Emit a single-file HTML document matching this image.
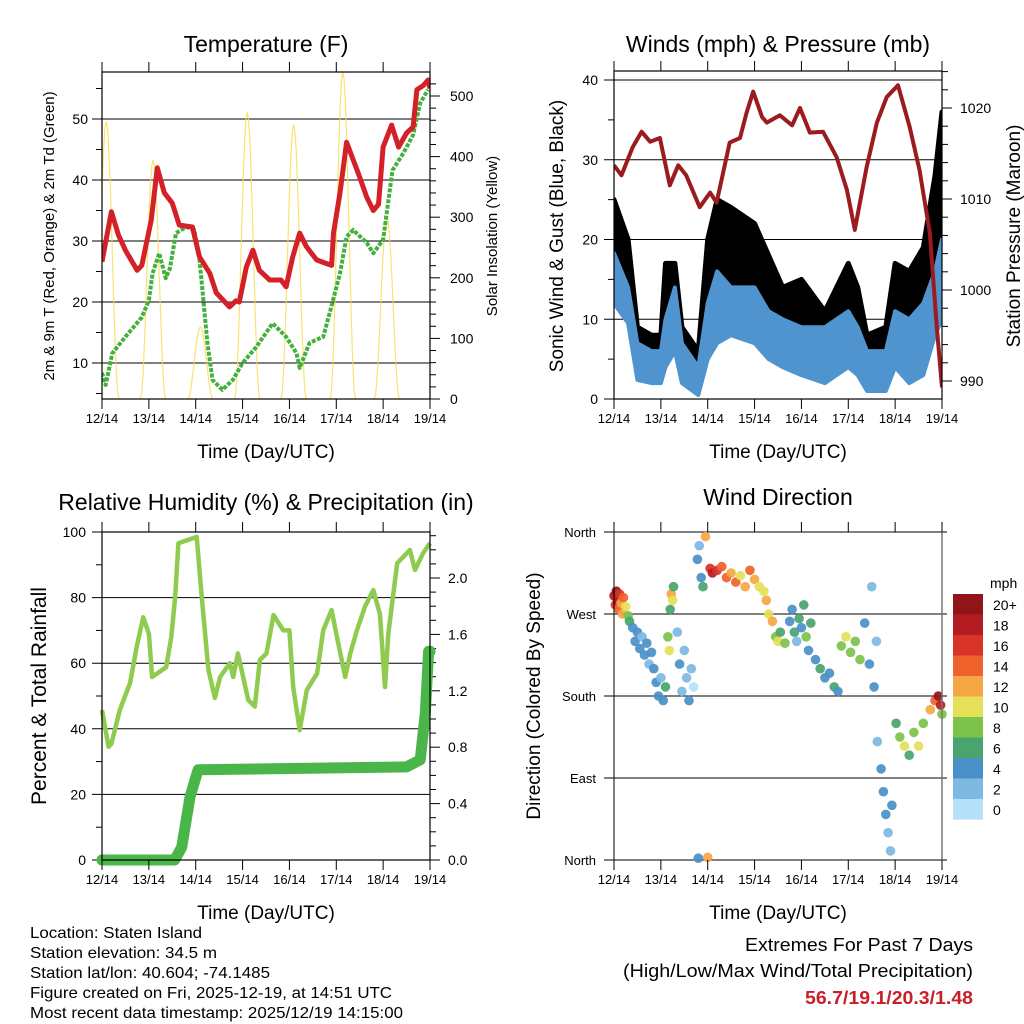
<!DOCTYPE html>
<html><head><meta charset="utf-8">
<style>
html,body{margin:0;padding:0;background:#fff;}
svg{display:block;font-family:"Liberation Sans",Arial,sans-serif;}
</style></head>
<body>
<svg id="root" width="1024" height="1024" viewBox="0 0 1024 1024" xmlns="http://www.w3.org/2000/svg"></svg>
<script>
// ===== Temperature panel data (time in days since 12/14 00Z) =====
const tDays=[0,0.2,0.35,0.5,0.75,0.85,1.05,1.18,1.33,1.5,1.65,1.93,2.08,2.3,2.44,2.72,2.86,2.93,3.08,3.22,3.36,3.58,3.82,3.93,4.07,4.22,4.36,4.58,4.72,4.9,4.94,5.08,5.22,5.36,5.47,5.65,5.79,5.9,6.0,6.18,6.33,6.5,6.64,6.72,6.86,6.96,7.0];
const tempF=[26.6,34.8,31,28.5,25.2,26,33.4,42,37.9,36.2,32.6,32.3,27.4,24.7,21.5,19.2,20.2,20,25.7,28.5,25.2,23.6,23.6,22.5,27.4,31.3,29.1,26.9,26.5,26,31.3,37.9,46.2,43.3,41.1,37.2,35,36,45.4,49,45.4,47.7,48.7,54.8,55.5,56.4,55];
const tdDays=[0,0.08,0.22,0.5,0.85,1.0,1.08,1.22,1.36,1.45,1.58,1.8,1.97,2.08,2.15,2.25,2.36,2.57,2.79,3.0,3.29,3.64,3.93,4.15,4.22,4.43,4.72,4.86,5.08,5.22,5.36,5.65,5.79,6.0,6.2,6.43,6.64,6.79,6.96];
const dewF=[8.4,6.4,11.6,14.3,17.5,20.3,24.7,28,23.9,25.5,31.3,32.3,31.8,26.9,21.5,13.3,7.2,5.6,7.2,10,12.6,16.5,14.3,11.6,9.2,13.3,14.3,18.2,24.7,30.7,31.8,29.7,28,30.2,41.6,44.4,47.4,52.6,54.8];
const solarPeakDay=[0.09,1.09,2.1,3.1,4.09,5.14,6.08];
const solarPeak=[458,395,119,473,453,540,300];
// ===== Wind panel data =====
const wDays=[0,0.3,0.5,0.8,1.0,1.1,1.3,1.45,1.8,2.0,2.2,2.5,3.0,3.3,3.6,4.0,4.5,5.0,5.2,5.4,5.8,6.0,6.3,6.6,6.85,7.0];
const windLow=[12,9.5,2.4,2,2,4,6,2,0.5,5,7,8,7,5,4,3,2,4,3,1,1,4,2,3,8,10];
const windHigh=[18.3,14,7,6,6,10,14,7,4,12,16,14,14,11,10,9,9,11,9,6,6,11,10,12,16,20];
const gustHigh=[25,20,9,8,8,17,17,9,6,20,25,24,22,18,14,15,11,17,14,8,9,17,16,19,28,36];
const pDays=[0,0.16,0.4,0.59,0.77,0.98,1.19,1.37,1.54,1.83,2.05,2.19,2.47,2.69,2.83,2.97,3.16,3.26,3.54,3.8,3.97,4.18,4.46,4.75,4.97,5.14,5.39,5.61,5.82,6.06,6.31,6.52,6.74,6.89,7.0];
const pressMb=[1013.7,1012.6,1015.7,1017.4,1016.3,1016.7,1011.5,1013.7,1012.6,1009.1,1010.7,1009.6,1016.2,1016.7,1019.5,1021.8,1019,1018.4,1019.2,1018.1,1020,1017.3,1017.4,1014.6,1011,1006.6,1013.5,1018.4,1021.2,1022.5,1017.9,1013.2,1006.3,995.9,989.3];
// ===== RH / precip data =====
const rhDays=[0,0.14,0.2,0.38,0.6,0.74,0.88,1.0,1.07,1.37,1.48,1.56,1.63,2.02,2.13,2.27,2.41,2.52,2.73,2.8,2.9,3.12,3.26,3.37,3.51,3.66,3.87,4.0,4.08,4.22,4.37,4.59,4.72,4.9,5.0,5.19,5.3,5.44,5.61,5.79,5.93,6.04,6.11,6.3,6.57,6.68,6.85,7.0];
const rhPct=[45.7,34.5,35.5,45.7,54,65,74,69,55.8,58.8,68,80,96.6,98.5,80,58,49.4,55.8,60,55.8,63,48.8,46.8,61,63,74.7,70,70,52.7,39.6,51.8,56.9,70,76.2,69,55.8,63,70,77.2,82.3,75,52.7,69,90.5,94.5,88.4,93.5,96.6];
const prDays=[0,1.55,1.7,1.88,2.05,6.5,6.79,6.9,6.97,7.0];
const precipIn=[0,0,0.09,0.45,0.64,0.66,0.71,1.04,1.48,1.48];
// ===== Wind direction data =====
const wdDay=[0,0.03,0.05,0.08,0.1,0.12,0.15,0.18,0.2,0.25,0.3,0.33,0.4,0.45,0.5,0.55,0.6,0.65,0.7,0.75,0.8,0.85,0.9,0.95,1.0,1.05,1.1,1.15,1.18,1.2,1.22,1.25,1.27,1.35,1.4,1.45,1.5,1.55,1.6,1.65,1.7,1.78,1.82,1.86,1.9,1.95,1.8,2.0,2.05,2.1,2.2,2.3,2.4,2.5,2.6,2.7,2.8,2.9,3.0,3.1,3.2,3.25,3.3,3.38,3.45,3.5,3.55,3.65,3.75,3.8,3.85,3.9,3.95,4.0,4.05,4.1,4.15,4.2,4.3,4.4,4.5,4.6,4.7,4.78,4.85,4.95,5.05,5.15,5.25,5.35,5.45,5.5,5.55,5.6,5.62,5.7,5.75,5.8,5.85,5.9,5.93,6.02,6.1,6.2,6.3,6.4,6.5,6.6,6.75,6.85,6.92,6.97,7.0];
const wdDir=[290,280,295,285,275,292,282,270,288,278,268,262,255,240,250,232,245,225,238,215,228,210,195,180,200,175,190,245,230,275,292,285,300,250,215,185,230,200,175,210,190,330,345,310,300,355,2,3,320,315,318,322,310,315,305,312,300,318,308,300,295,285,270,262,245,240,250,238,262,275,250,240,265,255,280,245,230,260,220,210,200,205,190,185,235,245,228,240,220,260,215,300,190,240,130,100,75,50,30,10,60,150,135,125,115,140,125,150,165,175,180,170,160];
const wdSpd=[18,16,20,18,14,16,12,12,14,10,8,6,4,4,4,4,2,4,4,2,4,4,4,4,2,4,6,8,10,6,12,10,6,2,4,2,2,2,4,2,0,4,2,4,6,12,4,12,16,18,16,14,14,12,14,10,12,14,12,10,10,12,10,12,8,10,6,8,4,4,6,2,6,4,6,8,4,6,4,6,4,4,6,4,8,10,8,8,8,4,4,2,4,2,2,4,4,4,2,2,4,6,8,10,6,8,10,8,12,14,20,18,8];
const cbLabels=["20+","18","16","14","12","10","8","6","4","2","0"];
const cbColors=["#8f1518","#b51c22","#d93227","#ef622b","#f6a643","#e5e057","#7cc24b","#48a56d","#4a90c8","#7db9e3","#b5e2f8"];
const dayLabels=["12/14","13/14","14/14","15/14","16/14","17/14","18/14","19/14"];

const NS="http://www.w3.org/2000/svg";
const root=document.getElementById('root');
function mk(tag,attrs,parent,text){const e=document.createElementNS(NS,tag);for(const k in attrs)e.setAttribute(k,attrs[k]);if(text!==undefined)e.textContent=text;(parent||root).appendChild(e);return e;}
function lin(d0,d1,r0,r1){return v=>r0+(v-d0)*(r1-r0)/(d1-d0);}
function pts(xs,ys,fx,fy){return xs.map((x,i)=>fx(x).toFixed(1)+','+fy(ys[i]).toFixed(1)).join(' ');}

function panelFrame(name){
  const g=mk('g',{});
  
  
  return g;
}
function drawXAxis(g,fx,T,B,cy){
  dayLabels.forEach((lab,i)=>{
    const x=fx(i);
    mk('line',{x1:x,y1:T,x2:x,y2:T-10,stroke:'#000','stroke-width':1},g);
    mk('line',{x1:x,y1:B,x2:x,y2:B+10,stroke:'#000','stroke-width':1},g);
    const t=mk('text',{x:x,y:B+24,'font-size':13,'text-anchor':'middle'},g,lab);
    
    
  });
  const t=mk('text',{x:cy,y:B+59,'font-size':19,'text-anchor':'middle'},g,'Time (Day/UTC)');
  
  
}
function box(g,L,T,R,B){mk('rect',{x:L,y:T,width:R-L,height:B-T,fill:'none',stroke:'#000','stroke-width':1.2},g);}
function grid(g,L,R,y){mk('line',{x1:L-10,y1:y,x2:R,y2:y,stroke:'#000','stroke-width':1},g);}

// ---------- Panel 1: Temperature ----------
(function(){
  const L=102,T=72,R=430,B=399;
  const g=panelFrame('temperature-panel');
  const fx=lin(0,7,L,R), fy=lin(10,50,363,119), fs=lin(0,500,399,96);
  const t=mk('text',{x:266,y:52,'font-size':23,'text-anchor':'middle'},g,'Temperature (F)');
  
  
  [10,20,30,40,50].forEach(v=>{grid(g,L,R,fy(v));
    const lb=mk('text',{x:88,y:fy(v)+5,'font-size':14,'text-anchor':'end'},g,String(v));
    
    });
  [5,15,25,35,45,55].forEach(v=>mk('line',{x1:L-6,y1:fy(v),x2:L,y2:fy(v),stroke:'#000'},g));
  for(let v=0;v<=540;v+=20){const y=fs(v);if(y<T)continue;mk('line',{x1:R,y1:y,x2:R+(v%100===0?10:6),y2:y,stroke:'#000'},g);}
  [0,100,200,300,400,500].forEach(v=>{const lb=mk('text',{x:450,y:fs(v)+5,'font-size':14},g,String(v));
    
    });
  const clip=mk('clipPath',{id:'c1'},g); mk('rect',{x:L,y:T,width:R-L,height:B-T},clip);
  const pg=mk('g',{'clip-path':'url(#c1)'},g);
  solarPeakDay.forEach((d,i)=>{
    const xs=[],ys=[];for(let k=0;k<=20;k++){const u=-0.27+k*0.027;xs.push(d+u);const s=Math.cos(u/0.27*Math.PI/2);ys.push(solarPeak[i]*s*s);}
    const p=mk('polyline',{points:pts(xs,ys,fx,fs),fill:'none',stroke:'#f7dc4c','stroke-width':1.2,opacity:0.8},pg);
    
    
  });
  const td=mk('polyline',{points:pts(tdDays,dewF,fx,fy),fill:'none',stroke:'#44b03f','stroke-width':4,'stroke-dasharray':'4 1.5','stroke-linejoin':'round'},pg);
  
  
  const tl=mk('polyline',{points:pts(tDays,tempF,fx,fy),fill:'none',stroke:'#d42027','stroke-width':5,'stroke-linejoin':'round'},pg);
  
  
  box(g,L,T,R,B); drawXAxis(g,fx,T,B,266);
  const yl=mk('text',{transform:'translate(54,236) rotate(-90)','font-size':15,'text-anchor':'middle'},g,'2m & 9m T (Red, Orange) & 2m Td (Green)');
  
  
  const yr=mk('text',{transform:'translate(497,236) rotate(-90)','font-size':15,'text-anchor':'middle'},g,'Solar Insolation (Yellow)');
  
  
})();

// ---------- Panel 2: Winds & Pressure ----------
(function(){
  const L=614,T=71,R=942,B=399;
  const g=panelFrame('winds-panel');
  const fx=lin(0,7,L,R), fy=lin(0,40,399,80), fp=lin(990,1020,381,108);
  const t=mk('text',{x:778,y:52,'font-size':23,'text-anchor':'middle'},g,'Winds (mph) & Pressure (mb)');
  
  
  [0,10,20,30,40].forEach(v=>{if(v>0)grid(g,L,R,fy(v));else mk('line',{x1:L-10,y1:fy(v),x2:L,y2:fy(v),stroke:'#000'},g);
    const lb=mk('text',{x:598,y:fy(v)+5,'font-size':14,'text-anchor':'end'},g,String(v));
    
    });
  [5,15,25,35].forEach(v=>mk('line',{x1:L-6,y1:fy(v),x2:L,y2:fy(v),stroke:'#000'},g));
  for(let v=988;v<=1024;v+=2){const y=fp(v);if(y<T||y>B)continue;mk('line',{x1:R,y1:y,x2:R+(v%10===0?10:6),y2:y,stroke:'#000'},g);}
  [990,1000,1010,1020].forEach(v=>{const lb=mk('text',{x:960,y:fp(v)+5,'font-size':14},g,String(v));
    
    });
  const clip=mk('clipPath',{id:'c2'},g); mk('rect',{x:L,y:T,width:R-L,height:B-T},clip);
  const pg=mk('g',{'clip-path':'url(#c2)'},g);
  const gust=mk('polygon',{points:pts(wDays,gustHigh,fx,fy)+' '+pts(wDays.slice().reverse(),windHigh.slice().reverse(),fx,fy),fill:'#000',stroke:'#000','stroke-width':5,'stroke-linejoin':'round'},pg);
  
  
  const wind=mk('polygon',{points:pts(wDays,windHigh,fx,fy)+' '+pts(wDays.slice().reverse(),windLow.slice().reverse(),fx,fy),fill:'#4f94cf',stroke:'#4f94cf','stroke-width':4,'stroke-linejoin':'round'},pg);
  
  
  const pr=mk('polyline',{points:pts(pDays,pressMb,fx,fp),fill:'none',stroke:'#9b1b1e','stroke-width':4,'stroke-linejoin':'round'},pg);
  
  
  box(g,L,T,R,B); drawXAxis(g,fx,T,B,778);
  const yl=mk('text',{transform:'translate(563,236) rotate(-90)','font-size':19,'text-anchor':'middle'},g,'Sonic Wind & Gust (Blue, Black)');
  
  
  const yr=mk('text',{transform:'translate(1020,236) rotate(-90)','font-size':19,'text-anchor':'middle'},g,'Station Pressure (Maroon)');
  
  
})();

// ---------- Panel 3: RH & Precip ----------
(function(){
  const L=102,T=532,R=430,B=860;
  const g=panelFrame('humidity-panel');
  const fx=lin(0,7,L,R), fy=lin(0,100,860,532), fp=lin(0,2.0,860,578);
  const t=mk('text',{x:266,y:510,'font-size':23,'text-anchor':'middle'},g,'Relative Humidity (%) & Precipitation (in)');
  
  
  [0,20,40,60,80,100].forEach(v=>{if(v>0&&v<100)grid(g,L,R,fy(v));else mk('line',{x1:L-10,y1:fy(v),x2:L,y2:fy(v),stroke:'#000'},g);
    const lb=mk('text',{x:86,y:fy(v)+5,'font-size':14,'text-anchor':'end'},g,String(v));
    
    });
  [10,30,50,70,90].forEach(v=>mk('line',{x1:L-6,y1:fy(v),x2:L,y2:fy(v),stroke:'#000'},g));
  for(let k=0;k<=23;k++){const v=k/10;const y=fp(v);if(y<T)continue;mk('line',{x1:R,y1:y,x2:R+(k%4===0?10:6),y2:y,stroke:'#000'},g);}
  ['0.0','0.4','0.8','1.2','1.6','2.0'].forEach(s=>{const lb=mk('text',{x:448,y:fp(+s)+5,'font-size':14},g,s);
    
    });
  const clip=mk('clipPath',{id:'c3'},g); mk('rect',{x:L-6,y:T,width:R-L+12,height:B-T+6},clip);
  const pg=mk('g',{'clip-path':'url(#c3)'},g);
  const rh=mk('polyline',{points:pts(rhDays,rhPct,fx,fy),fill:'none',stroke:'#8fcb4f','stroke-width':4.5,'stroke-linejoin':'round'},pg);
  
  
  const pc=mk('polyline',{points:pts(prDays,precipIn,fx,fp),fill:'none',stroke:'#4ab548','stroke-width':11,'stroke-linejoin':'round','stroke-linecap':'round'},pg);
  
  
  box(g,L,T,R,B); drawXAxis(g,fx,T,B,266);
  const yl=mk('text',{transform:'translate(46,696) rotate(-90)','font-size':21,'text-anchor':'middle'},g,'Percent & Total Rainfall');
  
  
})();

// ---------- Panel 4: Wind Direction ----------
(function(){
  const L=614,T=532,R=942,B=860;
  const g=panelFrame('wind-direction-panel');
  const fx=lin(0,7,L,R), fy=lin(0,360,860,532);
  const t=mk('text',{x:778,y:505,'font-size':23,'text-anchor':'middle'},g,'Wind Direction');
  
  
  [[0,'North'],[90,'East'],[180,'South'],[270,'West'],[360,'North']].forEach(([v,s])=>{
    mk('line',{x1:L-10,y1:fy(v),x2:R+5,y2:fy(v),stroke:'#000'},g);
    const lb=mk('text',{x:596,y:fy(v)+5,'font-size':13,'text-anchor':'end'},g,s);
    
    });
  const pg=mk('g',{},g);
  function col(s){let b=Math.floor(s/2);if(b>10)b=10;return cbColors[10-b];}
  wdDay.forEach((d,i)=>{
    const c=mk('circle',{cx:fx(d).toFixed(1),cy:fy(wdDir[i]).toFixed(1),r:4.8,fill:col(wdSpd[i]),opacity:0.92},pg);
    
    
  });
  mk('line',{x1:L,y1:T,x2:L,y2:B,stroke:'#000'},g);
  mk('line',{x1:R,y1:T,x2:R,y2:B,stroke:'#777','stroke-width':1.5},g);
  drawXAxis(g,fx,T,B,778);
  const yl=mk('text',{transform:'translate(540,696) rotate(-90)','font-size':19,'text-anchor':'middle'},g,'Direction (Colored By Speed)');
  
  
  const cb=mk('g',{},g);
  
  
  const mph=mk('text',{x:990,y:588,'font-size':14},cb,'mph');
  
  
  cbColors.forEach((c,i)=>{mk('rect',{x:953,y:594+i*20.5,width:30,height:20.6,fill:c},cb);
    const lb=mk('text',{x:993,y:610+i*20.5,'font-size':14},cb,cbLabels[i]);
    
    });
})();

// ---------- Footer text ----------
(function(){
  const g=mk('g',{});
  
  
  const lines=["Location: Staten Island","Station elevation: 34.5 m","Station lat/lon: 40.604; -74.1485","Figure created on Fri, 2025-12-19, at 14:51 UTC","Most recent data timestamp: 2025/12/19 14:15:00"];
  const widths=[172,187,240,362,373];
  lines.forEach((s,i)=>{
    const t=mk('text',{x:30,y:938+i*20,'font-size':16,textLength:widths[i],lengthAdjust:'spacingAndGlyphs'},g,s);
    
    });
  const e=mk('g',{});
  
  
  const a=mk('text',{x:745,y:951,'font-size':18,textLength:228,lengthAdjust:'spacingAndGlyphs'},e,'Extremes For Past 7 Days');
  
  
  const b=mk('text',{x:623,y:977,'font-size':18,textLength:350,lengthAdjust:'spacingAndGlyphs'},e,'(High/Low/Max Wind/Total Precipitation)');
  
  
  const c=mk('text',{x:805,y:1004,'font-size':18,'font-weight':'bold',fill:'#c8202a',textLength:168,lengthAdjust:'spacingAndGlyphs'},e,'56.7/19.1/20.3/1.48');
  
  
})();
</script>
</body></html>
